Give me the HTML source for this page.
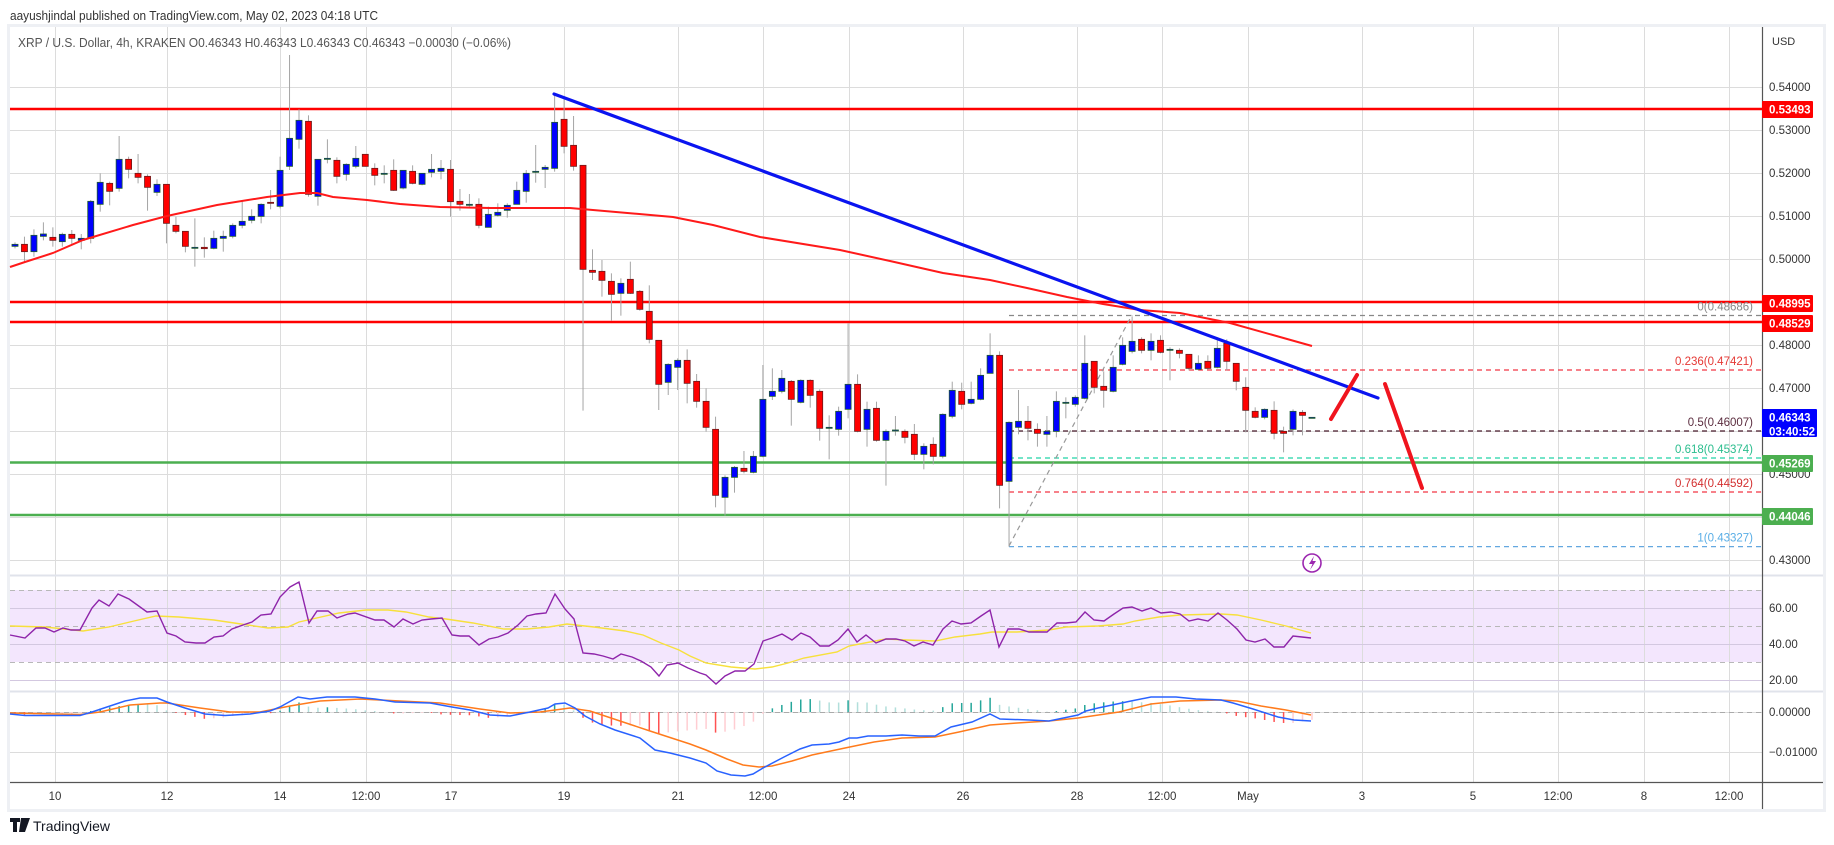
<!DOCTYPE html>
<html><head><meta charset="utf-8">
<style>
html,body{margin:0;padding:0;background:#fff;}
svg{display:block;font-family:"Liberation Sans",sans-serif;}
</style></head>
<body>
<svg id="s" width="1834" height="845" viewBox="0 0 1834 845" xmlns="http://www.w3.org/2000/svg">
<rect x="0" y="0" width="1834" height="845" fill="#fff"/>
<text x="10" y="20" font-size="13" fill="#333" textLength="368" lengthAdjust="spacingAndGlyphs">aayushjindal published on TradingView.com, May 02, 2023 04:18 UTC</text>
<rect x="8.5" y="25.5" width="1816" height="785" fill="none" stroke="#eef0f4" stroke-width="3"/>
<!-- RSI band -->
<rect x="10" y="590" width="1752" height="72" fill="#f3e6fd"/>
<g id="grid" stroke="#dcdcdc" stroke-width="1"></g>
<g id="ref"></g>
<g id="main"></g>
<g id="lower"></g>
<!-- separators -->
<line x1="10" y1="575.5" x2="1823" y2="575.5" stroke="#e0e3eb" stroke-width="2"/>
<line x1="10" y1="691.5" x2="1823" y2="691.5" stroke="#e0e3eb" stroke-width="2"/>
<line x1="1762.5" y1="27" x2="1762.5" y2="809" stroke="#555" stroke-width="1.2"/>
<line x1="10" y1="782.5" x2="1823" y2="782.5" stroke="#555" stroke-width="1.2"/>
<text x="18" y="47" font-size="12.5" fill="#555" textLength="493" lengthAdjust="spacingAndGlyphs">XRP / U.S. Dollar, 4h, KRAKEN  O0.46343  H0.46343  L0.46343  C0.46343  −0.00030 (−0.06%)</text>
<text x="1772" y="45" font-size="11" fill="#333">USD</text>
<g id="axis" font-size="11.5" fill="#333"></g>
<g id="time" font-size="11.5" fill="#333" text-anchor="middle"></g>
<!-- logo -->
<g transform="translate(10,818)">
<path d="M0 0h10v4h-3v10h-4v-10h-3z M11 0h4l-2 14h-4z M15 0h5l-5 14h-3z" fill="#131722"/>
<text x="23" y="13" font-size="14" fill="#131722">TradingView</text>
</g>
</svg>
<script>
const NS="http://www.w3.org/2000/svg";
function el(p,t,a,txt){const e=document.createElementNS(NS,t);for(const k in a)e.setAttribute(k,a[k]);if(txt!==undefined)e.textContent=txt;document.getElementById(p).appendChild(e);return e;}
// grid
const vx=[55,167,280,366,451,564,678,763,849,963,1077,1162,1248,1362,1473,1558,1644,1729];
vx.forEach(x=>el('grid','line',{x1:x+.5,y1:27,x2:x+.5,y2:782}));
for(let i=0;i<12;i++){const y=87+i*43;el('grid','line',{x1:10,y1:y+.5,x2:1762,y2:y+.5});}
[608,644,680].forEach(y=>el('grid','line',{x1:10,y1:y+.5,x2:1762,y2:y+.5,stroke:'#d3c8e0'}));
[712,752].forEach(y=>el('grid','line',{x1:10,y1:y+.5,x2:1762,y2:y+.5}));
[590,626,662].forEach(y=>el('grid','line',{x1:10,y1:y+.5,x2:1762,y2:y+.5,stroke:'#b8b8b8','stroke-dasharray':'5,4'}));
el('grid','line',{x1:10,y1:712.5,x2:1762,y2:712.5,stroke:'#aaa','stroke-dasharray':'5,4'});
// time labels
const tl=[[55,'10'],[167,'12'],[280,'14'],[366,'12:00'],[451,'17'],[564,'19'],[678,'21'],[763,'12:00'],[849,'24'],[963,'26'],[1077,'28'],[1162,'12:00'],[1248,'May'],[1362,'3'],[1473,'5'],[1558,'12:00'],[1644,'8'],[1729,'12:00']];
tl.forEach(t=>el('time','text',{x:t[0],y:800},t[1]));
// axis labels
const py=p=>87+(0.54-p)*4300;
[['0.54000',.54],['0.53000',.53],['0.52000',.52],['0.51000',.51],['0.50000',.50],['0.48000',.48],['0.47000',.47],['0.45000',.45],['0.43000',.43]].forEach(a=>el('axis','text',{x:1769,y:py(a[1])+4},a[0]));
[['60.00',608],['40.00',644],['20.00',680],['0.00000',712],['−0.01000',752]].forEach(a=>el('axis','text',{x:1769,y:a[1]+4},a[0]));
// horizontal ref lines
const hl=[[109,'#ff0000'],[302,'#ff0000'],[322,'#ff0000'],[462.5,'#4caf50'],[515,'#4caf50']];
hl.forEach(h=>el('ref','line',{x1:10,y1:h[0],x2:1762,y2:h[0],stroke:h[1],'stroke-width':2.5}));
// fib
const fib=[[315.5,'#888','0(0.48686)','#888'],[370,'#f23645','0.236(0.47421)','#e53935'],[431,'#4a1c2c','0.5(0.46007)','#5b2d3f'],[458,'#22d3a6','0.618(0.45374)','#2bbd8e'],[492,'#f23645','0.764(0.44592)','#d32f2f'],[546.6,'#64a8e0','1(0.43327)','#5aaee6']];
fib.forEach(f=>{el('ref','line',{x1:1009,y1:f[0],x2:1762,y2:f[0],stroke:f[1],'stroke-width':1.2,'stroke-dasharray':'5,4'});
el('ref','text',{x:1753,y:f[0]-5,'font-size':11.5,fill:f[3],'text-anchor':'end'},f[2]);});
el('ref','line',{x1:1009,y1:546,x2:1132,y2:315,stroke:'#999','stroke-width':1.2,'stroke-dasharray':'5,4'});
// candles
const C=[
[553,559,547,565,1],[553,575,530,605,0],[526,575,508,590,1],[522,529,487,541,1],[532,541,502,560,0],[523,545,518,560,1],[523,535,510,555,0],[535,541,522,568,1],[424,535,420,550,1],[367,433,340,455,1],
[370,394,365,436,0],[298,385,228,395,1],[298,328,290,355,0],[340,352,282,370,0],[349,382,343,452,0],[373,397,358,408,1],[373,490,373,550,0],[496,514,470,520,0],[514,559,514,577,0],[562,563,475,620,1],
[562,566,532,593,0],[535,565,512,568,1],[529,535,512,575,1],[496,529,490,535,1],[484,496,420,505,1],[469,481,448,490,1],[433,469,430,490,1],[427,428,390,448,0],[331,439,290,445,1],[235,319,-15,330,1],
[181,238,148,266,1],[184,403,166,410,0],[298,409,298,437,1],[295,296,238,310,1],[301,349,292,370,0],[313,343,310,362,1],[295,319,258,325,1],[283,319,283,320,0],[325,346,310,376,0],[340,341,316,370,1],
[331,391,298,393,0],[331,384,331,388,1],[334,370,316,373,0],[340,373,340,376,1],[328,337,282,352,1],[325,334,300,358,1],[328,425,300,470,0],
[424,433,387,452,0],[433,436,402,440,1],[433,496,415,505,0],[463,502,440,502,1],[457,466,430,470,1],[436,451,430,473,1],[391,433,365,433,1],[340,394,330,428,1],[334,337,255,368,1],[322,328,315,384,1],
[187,325,100,335,1],[178,259,112,280,0],[256,319,168,332,0],[316,628,316,1052,0],[631,637,568,660,0],[634,661,600,710,0],[664,703,640,782,0],[670,700,655,767,1],[658,700,605,702,0],[694,748,690,752,0],
[754,838,676,850,0],[841,973,841,1050,0],[913,967,910,1005,1],[901,922,895,990,1],[901,970,868,1030,0],[964,1024,942,1043,0],[1024,1102,985,1115,0],[1108,1306,1070,1342,0],[1252,1312,1246,1367,1],[1222,1252,1218,1298,1],
[1225,1234,1173,1240,0],[1189,1237,1173,1240,1],[1018,1189,915,1192,1],[994,1009,925,1020,1],[955,994,930,1000,1],[964,1018,960,1097,0],[961,1027,958,1030,1],[961,1006,958,1043,0],[994,1105,988,1142,0],[1102,1105,1066,1198,1],
[1054,1108,1040,1127,1],[973,1048,790,1075,1],[973,1114,943,1117,0],[1048,1108,1025,1160,1],[1045,1141,1025,1145,0],[1114,1141,1108,1277,1],
[1110,1111,1068,1127,1],[1114,1132,1108,1150,0],[1123,1183,1092,1200,0],[1159,1183,1150,1228,1],[1153,1189,1132,1213,0],[1063,1189,1060,1195,1],[991,1069,965,1075,1],[994,1033,968,1048,0],[1018,1030,965,1033,1],[946,1018,925,1021,1],
[886,940,820,940,1],[886,1276,874,1345,0],[1087,1264,1084,1460,1],[1084,1102,990,1123,1],[1084,1105,1038,1141,0],[1108,1120,1090,1160,0],[1114,1123,1068,1160,1],[1024,1114,994,1132,1],[1027,1028,1012,1075,1],[1012,1033,1006,1040,1],
[910,1015,826,1018,1],[904,982,904,1000,0],[979,991,934,1043,0],[922,994,886,997,1],[856,913,832,916,1],[844,874,769,880,1],[838,871,832,880,0],[844,871,820,901,1],[841,877,826,880,0],[868,869,862,961,1],
[871,880,865,895,0],[883,925,883,931,0],[910,928,886,931,1],[904,925,886,928,0],[865,922,832,925,1],[850,904,838,931,0],[910,964,910,991,0],[982,1051,952,1117,0],[1054,1072,1042,1075,0],[1048,1072,1045,1078,1],
[1051,1120,1024,1138,0],[1114,1120,1100,1177,0],[1054,1108,1048,1126,1],[1057,1066,1050,1126,0],[1072,1073,1072,1073,1]];
const cx=i=>15+i*9.467;
const Y=v=>60+v/3;
C.forEach((c,i)=>{const x=cx(i);
 el('main','line',{x1:x,y1:Y(c[2]),x2:x,y2:Y(c[3]),stroke:'#a5a5a5','stroke-width':1});
 const t=Y(c[0]),b=Math.max(Y(c[1]),t+1);
 el('main','rect',{x:x-3,y:t,width:6,height:b-t,fill:c[4]?'#0000ff':'#ff0000',stroke:c[4]?'#1e5a2e':'#6b1a1a','stroke-width':0.8});
});
// MA
const ma=[[10,267],[25,262],[53,253],[83,240],[133,225],[167,216],[217,205],[267,197],[300,193],[317,193],[333,197],[367,200],[400,204],[440,207],[490,208],[570,208],[673,217],[713,225],[760,237],[840,250],[890,261],[943,273],[990,280],[1027,288],[1067,297],[1103,304],[1140,310],[1180,313],[1230,323],[1312,346]];
const pts=a=>a.map(p=>p.join(',')).join(' ');
el('main','polyline',{points:pts(ma),fill:'none',stroke:'#ff1a1a','stroke-width':2});
// trendline and arrows
el('main','line',{x1:554,y1:94,x2:1378,y2:398,stroke:'#0a14f0','stroke-width':3.2,'stroke-linecap':'round'});
el('main','line',{x1:1331,y1:419,x2:1357,y2:375,stroke:'#f0141e','stroke-width':4,'stroke-linecap':'round'});
el('main','line',{x1:1385,y1:384,x2:1422,y2:488,stroke:'#f0141e','stroke-width':4,'stroke-linecap':'round'});
// lightning icon
el('main','circle',{cx:1312,cy:563,r:9,fill:'#fff',stroke:'#9c27b0','stroke-width':1.6});
el('main','path',{d:'M1314 556 L1309 564 L1312.5 564 L1310 570 L1316 561 L1312.5 561 Z',fill:'#9c27b0'});
// badges
function badge(y,h,col,lines){el('axis','rect',{x:1762,y:y,width:lines.length>1?55:51,height:h,fill:col,rx:1});
 lines.forEach((l,k)=>el('axis','text',{x:1769,y:y+12.5+k*14,fill:'#fff','font-weight':'bold'},l));}
badge(101,17,'#ff0000',['0.53493']);
badge(295,17,'#ff0000',['0.48995']);
badge(315,17,'#ff0000',['0.48529']);
badge(409,28,'#0000ff',['0.46343','03:40:52']);
badge(455,17,'#4caf50',['0.45269']);
badge(508,17,'#4caf50',['0.44046']);
// RSI
const rsi=[[10,635],[25,638],[36,628],[45,628],[54,632],[63,628],[71,630],[80,630],[92,608],[99,600],[109,606],[118,594],[129,599],[147,612],[157,611],[167,633],[176,636],[185,642],[196,643],[205,643],[214,637],[223,636],[232,629],[243,625],[252,622],[261,615],[271,614],[280,597],[290,587],[299,582],[309,623],[317,611],[328,611],[337,618],[348,614],[355,613],[375,620],[384,620],[394,627],[403,619],[413,624],[422,620],[431,619],[442,618],[452,635],[460,636],[469,636],[479,645],[489,639],[498,637],[508,633],[518,625],[527,616],[536,614],[546,613],[555,594],[565,609],[574,619],[583,653],[594,654],[603,656],[613,659],[621,654],[632,657],[641,661],[651,667],[659,676],[667,665],[678,663],[688,668],[700,673],
[706,675],[716,684],[725,676],[735,671],[745,671],[754,664],[763,641],[772,638],[782,634],[792,640],[801,633],[810,637],[820,646],[829,646],[838,640],[848,629],[857,642],[866,635],[876,643],[886,639],[896,639],[905,641],[914,646],[923,642],[933,645],[943,629],[952,621],[961,624],[971,623],[981,616],[990,610],[999,647],[1008,629],[1019,629],[1029,632],[1038,632],[1047,632],[1057,623],[1066,623],[1076,622],[1085,612],[1094,620],[1104,621],[1114,614],[1123,608],[1132,607],[1142,611],[1151,608],[1161,613],[1171,612],[1180,614],[1189,621],[1198,619],[1208,621],[1218,613],[1227,620],[1237,629],[1246,640],[1255,642],[1265,639],[1274,647],[1284,647],[1293,636],[1302,637],[1311,638]];
const rma=[[10,626],[45,627],[83,631],[109,627],[134,621],[156,616],[179,617],[214,620],[241,624],[268,628],[288,627],[299,622],[339,613],[366,610],[388,610],[406,612],[429,617],[446,619],[473,623],[504,629],[527,629],[549,627],[567,624],[594,627],[625,631],[643,635],[661,643],[679,650],[690,656],[706,663],[731,667],[755,669],[772,667],[788,663],[804,658],[837,652],[849,646],[870,642],[886,639],[906,640],[935,641],[955,637],[980,634],[992,632],[1017,632],[1049,630],[1066,627],[1098,626],[1123,624],[1135,621],[1159,617],[1180,615],[1221,614],[1237,615],[1261,620],[1286,626],[1311,633]];
el('lower','polyline',{points:pts(rma),fill:'none',stroke:'#f7e03c','stroke-width':1.4});
el('lower','polyline',{points:pts(rsi),fill:'none',stroke:'#8e24aa','stroke-width':1.4});
// MACD
const mb=[[10,714],[25,715.5],[80,715.5],[92,712],[110,706],[125,701],[140,698],[157,698],[167,702],[185,708],[205,714],[225,715.5],[250,714],[270,711],[280,707],[298,697],[310,699],[327,697],[355,697],[375,699],[395,702],[430,703],[452,707],[470,710],[490,715],[510,716],[530,712],[548,708],[555,704],[565,703],[575,708],[585,716],[600,724],[615,730],[640,738],[655,750],[670,753],[690,758],[706,763],[717,771],[731,775],[745,776],[753,774],[763,768],[784,757],[800,749],[812,745],[829,744],[839,742],[849,738],[857,738],[868,736],[886,736],[902,735],[919,736],[935,736],[951,727],[972,722],[990,714],[1000,719],[1029,720],[1049,721],[1078,715],[1086,711],[1098,708],[1131,701],[1151,697],[1176,697],[1196,699],[1221,700],[1233,703],[1253,709],[1278,717],[1294,720],[1311,721]];
const mo=[[10,713],[80,714.5],[100,712],[130,705],[160,703],[167,703],[200,708],[230,712],[260,712],[290,706],[320,701],[360,699],[400,701],[440,703],[480,709],[510,713],[540,712],[570,708],[590,711],[620,721],[650,731],[690,744],[706,750],[727,759],[743,765],[759,767],[772,766],[792,761],[812,755],[845,748],[874,742],[902,738],[935,737],[959,732],[990,725],[1017,723],[1049,721],[1078,718],[1119,712],[1151,704],[1180,701],[1221,700],[1237,701],[1261,706],[1286,710],[1311,715]];
function interp(a,x){if(x<=a[0][0])return a[0][1];for(let i=1;i<a.length;i++){if(x<=a[i][0]){const t=(x-a[i-1][0])/(a[i][0]-a[i-1][0]);return a[i-1][1]+t*(a[i][1]-a[i-1][1]);}}return a[a.length-1][1];}
let prev=0;
for(let i=0;i<C.length;i++){const x=cx(i);const h=(interp(mo,x)-interp(mb,x))*1.3;
 let col;if(h>=0)col=h>=prev?'#26a69a':'#b2dfdb';else col=h<=prev?'#ff5252':'#ffcdd2';
 prev=h;if(Math.abs(h)<0.3)continue;
 el('lower','line',{x1:x,y1:712,x2:x,y2:712-h,stroke:col,'stroke-width':1.5});}
el('lower','polyline',{points:pts(mo),fill:'none',stroke:'#ff7b1c','stroke-width':1.5});
el('lower','polyline',{points:pts(mb),fill:'none',stroke:'#2962ff','stroke-width':1.5});
</script>
</body></html>
